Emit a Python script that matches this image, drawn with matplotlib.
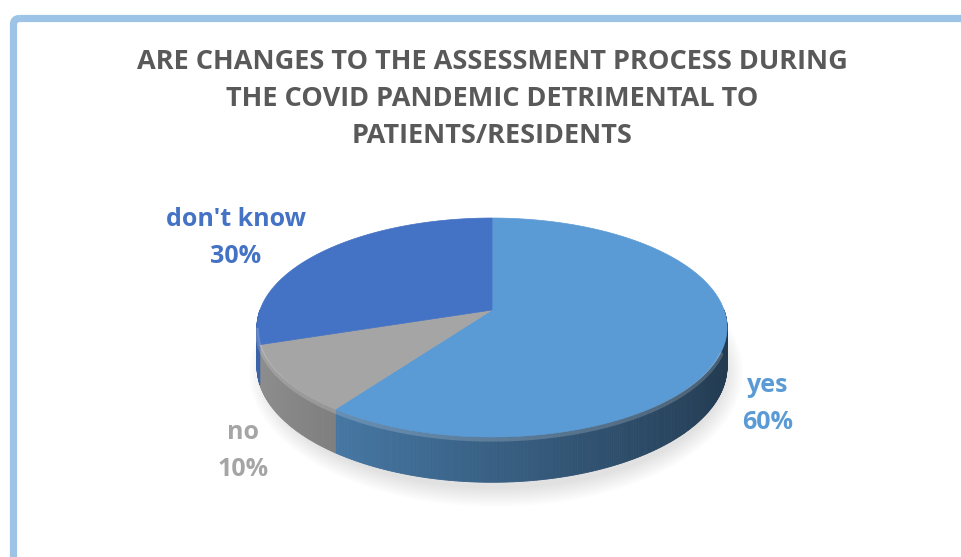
import numpy as np
import matplotlib.pyplot as plt
from matplotlib.patches import Polygon, FancyBboxPatch, Ellipse
from matplotlib.collections import PolyCollection
from matplotlib.colors import to_rgb

# data
labels = ['yes', 'no', "don't know"]
shares = [60, 10, 30]
top_colors = ['#5B9BD5', '#A5A5A5', '#4472C4']
title = 'ARE CHANGES TO THE ASSESSMENT PROCESS DURING\nTHE COVID PANDEMIC DETRIMENTAL TO\nPATIENTS/RESIDENTS'

plt.rcParams['font.family'] = ['Open Sans', 'DejaVu Sans']

# pie geometry (pixels), simple perspective tilt
cx, cy = 492, 310
A, B, k, H = 232, 106.7, 0.16, 38


def project(theta):
    u = np.sin(theta)
    d = -np.cos(theta)
    w = 1 - k * d
    return cx + A * u / w, cy + B * d / w, w


fig = plt.figure(figsize=(9.61, 5.57), dpi=100)
ax = fig.add_axes([0, 0, 1, 1])
ax.set_xlim(0, 961)
ax.set_ylim(557, 0)
ax.axis('off')

# frame border
ax.add_patch(FancyBboxPatch((13.5, 18.5), 1100, 700, boxstyle='round,pad=0,rounding_size=6',
                            fc='none', ec='#9DC3E6', lw=5.2, clip_on=True))

# soft shadow under the pie
for s in range(10):
    ax.add_patch(Ellipse((cx + 4, cy + 62), 2 * A + 30 - s * 4, 2 * B + 56 - s * 4,
                         fc='#000000', ec='none', alpha=0.012))

fracs = np.array(shares) / np.sum(shares)
starts = np.concatenate([[0], np.cumsum(fracs)[:-1]]) * 2 * np.pi
ends = np.cumsum(fracs) * 2 * np.pi

# sides (only front half visible)
polys, cols = [], []
for t0, t1, c in zip(starts, ends, top_colors):
    a0 = max(t0, np.pi / 2)
    a1 = min(t1, 3 * np.pi / 2)
    if a1 <= a0:
        continue
    th = np.linspace(a0, a1, int(np.degrees(a1 - a0) * 2) + 2)
    base = np.array(to_rgb(c))
    for i in range(len(th) - 1):
        x0, y0, w0 = project(th[i])
        x1, y1, w1 = project(th[i + 1])
        polys.append([(x0, y0), (x1, y1), (x1, y1 + H / w1), (x0, y0 + H / w0)])
        u = np.sin((th[i] + th[i + 1]) / 2)
        f = 0.62 - 0.25 * u
        cols.append(np.clip(base * f, 0, 1))
ax.add_collection(PolyCollection(polys, facecolors=cols, edgecolors=cols, linewidths=0.6))

# top faces
for t0, t1, c in zip(starts, ends, top_colors):
    th = np.linspace(t0, t1, 200)
    x, y, _ = project(th)
    pts = [(cx, cy)] + list(zip(x, y))
    ax.add_patch(Polygon(pts, closed=True, fc=c, ec=c, lw=0.5))

# rim highlight on the front edge
th = np.linspace(np.pi * 0.62, np.pi * 1.45, 200)
x, y, w = project(th)
ax.plot(x, y + 2.5, color='white', alpha=0.18, lw=3, solid_capstyle='round')

# title
ax.text(492, 99, title, ha='center', va='center', fontsize=19.5, fontweight='bold',
        color='#595959', linespacing=1.55)

# data labels
label_pos = [(768, 404), (243, 451), (236, 238)]
for lab, s, c, (lx, ly) in zip(labels, shares, top_colors, label_pos):
    ax.text(lx, ly, f'{lab}\n{s}%', ha='center', va='center', fontsize=18,
            fontweight='bold', color=c, linespacing=1.6)

fig.savefig('out.png', dpi=100)
